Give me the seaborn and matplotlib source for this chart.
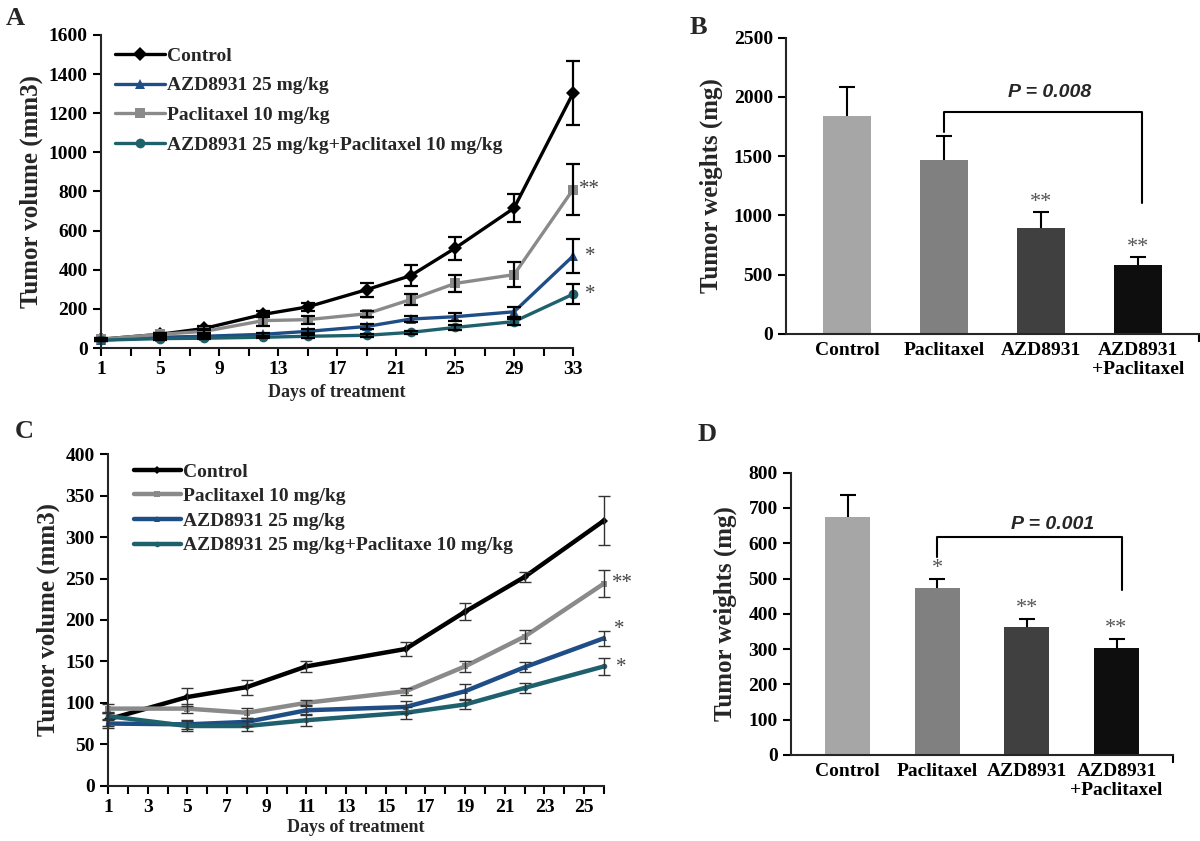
import pandas as pd
import seaborn as sns
import matplotlib.pyplot as plt
from matplotlib.ticker import MultipleLocator, FixedLocator

# ---- Panel A: tumor volume (mm3) ----
days_a = [1, 5, 8, 12, 15, 19, 22, 25, 29, 33]
ctrl_a = [45, 70, 100, 172, 210, 298, 370, 510, 715, 1302]
ctrl_a_err = [5, 5, 10, 15, 20, 35, 52, 58, 72, 163]
azd_a = [40, 55, 60, 70, 85, 110, 148, 160, 185, 470]
azd_a_err = [5, 5, 5, 8, 10, 12, 15, 20, 25, 85]
pac_a = [45, 70, 85, 140, 145, 175, 248, 330, 375, 810]
pac_a_err = [5, 5, 10, 25, 20, 15, 30, 45, 65, 130]
combo_a = [40, 48, 50, 55, 60, 65, 80, 105, 135, 275]
combo_a_err = [5, 5, 5, 5, 8, 8, 8, 15, 15, 50]

# ---- Panel C: tumor volume (mm3) ----
days_c = [1, 5, 8, 11, 16, 19, 22, 26]
ctrl_c = [80, 107, 119, 144, 165, 210, 252, 320]
ctrl_c_err = [8, 11, 9, 7, 8, 10, 6, 30]
pac_c = [93, 93, 88, 100, 114, 144, 180, 244]
pac_c_err = [5, 5, 6, 4, 4, 7, 8, 16]
azd_c = [75, 74, 77, 91, 95, 114, 143, 178]
azd_c_err = [5, 5, 5, 6, 7, 9, 6, 9]
combo_c = [84, 72, 72, 79, 88, 98, 118, 144]
combo_c_err = [5, 6, 6, 7, 7, 5, 6, 10]

# ---- Panels B and D: tumor weights (mg) ----
groups = ["Control", "Paclitaxel", "AZD8931", "AZD8931\n+Paclitaxel"]
weight_b = [1835, 1470, 895, 577]
weight_b_err = [247, 200, 133, 68]
weight_d = [675, 474, 364, 304]
weight_d_err = [62, 24, 21, 24]
stars_b = ["", "", "**", "**"]
stars_d = ["", "*", "**", "**"]

lbl_ctrl = "Control"
lbl_azd = "AZD8931 25 mg/kg"
lbl_pac = "Paclitaxel 10 mg/kg"
lbl_combo_a = "AZD8931 25 mg/kg+Paclitaxel 10 mg/kg"
lbl_combo_c = "AZD8931 25 mg/kg+Paclitaxe 10 mg/kg"

BLACK, GRAY, BLUE, TEAL = "#000000", "#8a8a8a", "#1f4e86", "#1f606d"
BAR_COLORS = ["#a6a6a6", "#808080", "#404040", "#0e0e0e"]

sns.set_theme(style="ticks")
plt.rcParams["font.family"] = ["Liberation Serif", "DejaVu Serif"]
plt.rcParams["font.weight"] = "bold"
plt.rcParams["axes.labelweight"] = "bold"
plt.rcParams["axes.linewidth"] = 1.5
plt.rcParams["xtick.major.width"] = 1.5
plt.rcParams["ytick.major.width"] = 1.5
plt.rcParams["xtick.minor.width"] = 1.5
plt.rcParams["xtick.color"] = "black"
plt.rcParams["ytick.color"] = "black"

fig = plt.figure(figsize=(12, 8.41), dpi=100)


def long_table(days, series):
    rows = []
    for name, vals in series:
        for d, v in zip(days, vals):
            rows.append({"day": d, "vol": v, "group": name})
    return pd.DataFrame(rows)


def line_panel(ax, days, series, errs, colors, markers, lw, ms, elw, cap, ecolor):
    df = long_table(days, series)
    names = [s[0] for s in series]
    sns.lineplot(data=df, x="day", y="vol", hue="group", style="group",
                 hue_order=names, style_order=names,
                 palette=dict(zip(names, colors)),
                 markers=dict(zip(names, markers)), dashes=False,
                 linewidth=lw, markersize=ms, markeredgewidth=0, ax=ax,
                 clip_on=False)
    for (name, vals), e in zip(series, errs):
        ax.errorbar(days, vals, yerr=e, fmt="none", ecolor=ecolor,
                    elinewidth=elw, capsize=cap, capthick=elw, zorder=5,
                    clip_on=False)
    sns.despine(ax=ax)


# ---------------- A ----------------
axA = fig.add_axes([0.0842, 0.5862, 0.3933, 0.3722])
line_panel(axA, days_a,
           [(lbl_ctrl, ctrl_a), (lbl_azd, azd_a), (lbl_pac, pac_a), (lbl_combo_a, combo_a)],
           [ctrl_a_err, azd_a_err, pac_a_err, combo_a_err],
           [BLACK, BLUE, GRAY, TEAL], ["D", "^", "s", "o"],
           lw=2.4, ms=7, elw=1.6, cap=5, ecolor="black")
axA.set_xlim(1, 33)
axA.set_ylim(0, 1600)
axA.xaxis.set_major_locator(FixedLocator([1, 5, 9, 13, 17, 21, 25, 29, 33]))
axA.xaxis.set_minor_locator(FixedLocator([3, 7, 11, 15, 19, 23, 27, 31]))
axA.yaxis.set_major_locator(MultipleLocator(200))
axA.tick_params(axis="both", which="both", direction="out", length=6, labelsize=14)
axA.set_xlabel("Days of treatment", fontsize=13)
axA.set_ylabel("Tumor volume (mm3)", fontsize=18, labelpad=4)
h, l = axA.get_legend_handles_labels()
axA.legend(h, l, loc="upper left", bbox_to_anchor=(0.0, 1.005), frameon=False,
           fontsize=14, handlelength=2.6, handletextpad=0.1, labelspacing=0.62,
           borderaxespad=0.3)
for y, s, dx in [(810, "**", 0.4), (470, "*", 0.8), (275, "*", 0.8)]:
    axA.text(33 + dx, y, s, fontsize=15, fontweight="normal", color="#444444",
             ha="left", va="center", clip_on=False)
fig.text(0.005, 0.978, "A", fontsize=19, fontweight="bold", va="center")

# ---------------- C ----------------
axC = fig.add_axes([0.09, 0.0658, 0.4133, 0.394])
line_panel(axC, days_c,
           [(lbl_ctrl, ctrl_c), (lbl_pac, pac_c), (lbl_azd, azd_c), (lbl_combo_c, combo_c)],
           [ctrl_c_err, pac_c_err, azd_c_err, combo_c_err],
           [BLACK, GRAY, BLUE, TEAL], ["D", "s", "^", "o"],
           lw=3.2, ms=4, elw=1.0, cap=4, ecolor="#333333")
axC.set_xlim(1, 26)
axC.set_ylim(0, 400)
axC.xaxis.set_major_locator(FixedLocator(list(range(1, 26, 2))))
axC.xaxis.set_minor_locator(FixedLocator(list(range(2, 27, 2))))
axC.yaxis.set_major_locator(MultipleLocator(50))
axC.tick_params(axis="both", which="both", direction="out", length=6, labelsize=14)
axC.set_xlabel("Days of treatment", fontsize=13, labelpad=2)
axC.set_ylabel("Tumor volume (mm3)", fontsize=18, labelpad=4)
h, l = axC.get_legend_handles_labels()
axC.legend(h, l, loc="upper left", bbox_to_anchor=(0.025, 1.015), frameon=False,
           fontsize=14, handlelength=2.4, handletextpad=0.1, labelspacing=0.36,
           borderaxespad=0.3)
for y, s, dx in [(244, "**", 0.4), (188, "*", 0.5), (143, "*", 0.6)]:
    axC.text(26 + dx, y, s, fontsize=15, fontweight="normal", color="#444444",
             ha="left", va="center", clip_on=False)
fig.text(0.012, 0.487, "C", fontsize=19, fontweight="bold", va="center")


# ---------------- bar panels ----------------
def bar_panel(ax, vals, errs, stars, star_gap, ymax, ystep, bracket, ptext, pxy):
    df = pd.DataFrame({"group": groups, "weight": vals})
    sns.barplot(data=df, x="group", y="weight", hue="group", palette=BAR_COLORS,
                width=0.5, legend=False, saturation=1, ax=ax)
    for p in ax.patches:
        p.set_edgecolor("none")
    eb = ax.errorbar(range(4), vals, yerr=[[0] * 4, errs], fmt="none", ecolor="black",
                     elinewidth=1.5, capsize=6, capthick=1.5, zorder=5)
    eb[1][0].set_visible(False)  # only the upper cap, as in the original
    for i, s in enumerate(stars):
        if s:
            ax.text(i, vals[i] + errs[i] + star_gap, s, fontsize=16, fontweight="normal",
                    color="#555555", ha="center", va="center")
    bx, by = bracket
    ax.plot(bx, by, color="black", lw=1.5)
    ax.text(pxy[0], pxy[1], ptext, fontsize=14, fontstyle="italic", fontweight="bold",
            family="Liberation Sans", ha="center", va="center")
    ax.set_xlim(-0.63, 3.63)
    ax.set_ylim(0, ymax)
    ax.yaxis.set_major_locator(MultipleLocator(ystep))
    ax.xaxis.set_minor_locator(FixedLocator([3.63]))
    ax.tick_params(axis="x", which="major", length=0, labelsize=14, pad=6)
    ax.tick_params(axis="x", which="minor", direction="out", length=6)
    ax.tick_params(axis="y", direction="out", length=6, labelsize=14)
    ax.set_xlabel("")
    ax.set_ylabel("Tumor weights (mg)", fontsize=18, labelpad=8)
    for t in ax.get_xticklabels():
        t.set_linespacing(1.15)
    sns.despine(ax=ax)


axB = fig.add_axes([0.655, 0.6032, 0.3442, 0.352])
bar_panel(axB, weight_b, weight_b_err, stars_b, 80, 2500, 500,
          ([1, 1, 3.04, 3.04], [1706, 1872, 1872, 1106]), "P = 0.008", (2.09, 2040))
fig.text(0.575, 0.967, "B", fontsize=19, fontweight="bold", va="center")

axD = fig.add_axes([0.6592, 0.1023, 0.3183, 0.3357])
bar_panel(axD, weight_d, weight_d_err, stars_d, 30, 800, 100,
          ([1, 1, 3.06, 3.06], [562, 618, 618, 467]), "P = 0.001", (2.29, 654))
fig.text(0.581, 0.483, "D", fontsize=19, fontweight="bold", va="center")

fig.savefig("out.png", dpi=100)
